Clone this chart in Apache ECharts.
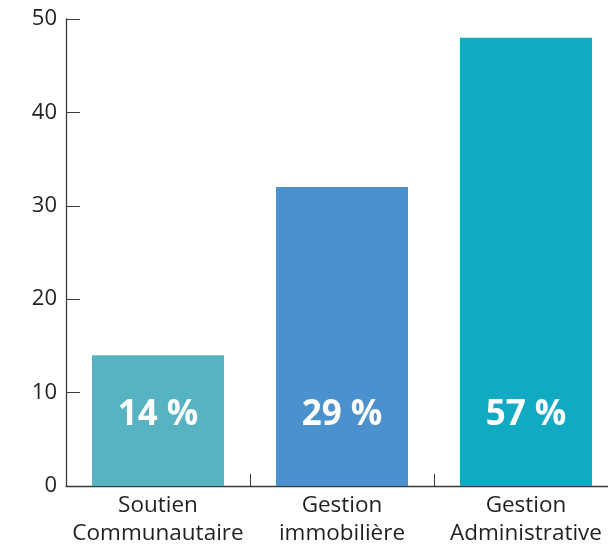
<!DOCTYPE html>
<html>
<head>
<meta charset="utf-8">
<script src="https://cdn.jsdelivr.net/npm/echarts@6/dist/echarts.min.js"></script>
<style>html,body{margin:0;padding:0;background:#fff;overflow:hidden}#c{width:618px;height:548px}</style>
</head>
<body>
<div id="c"></div>
<script>
const categories = ['Soutien\nCommunautaire', 'Gestion\nimmobilière', 'Gestion\nAdministrative'];
const values = [14, 32, 48];
const percentLabels = ['14 %', '29 %', '57 %'];
const barColors = ['#57b2c1', '#4b91cd', '#12a9c2'];
const yTicks = [0, 10, 20, 30, 40, 50];

const chart = echarts.init(document.getElementById('c'));
const font = '"Open Sans", "Noto Sans", sans-serif';
chart.setOption({
  animation: false,
  grid: { left: 66, right: 0, top: 19, bottom: 62 },
  xAxis: {
    type: 'category',
    data: categories,
    axisLine: { lineStyle: { color: '#3a3a3a', width: 1.3 } },
    axisTick: { show: true, inside: true, length: 12, alignWithLabel: false, lineStyle: { color: '#3a3a3a' } },
    axisLabel: { color: '#231f20', fontSize: 22.5, fontFamily: font, lineHeight: 28, margin: 6, interval: 0 }
  },
  yAxis: {
    type: 'value',
    min: yTicks[0], max: yTicks[yTicks.length - 1], interval: 10,
    axisLine: { show: true, lineStyle: { color: '#3a3a3a', width: 1.3 } },
    axisTick: { show: true, inside: true, length: 14, lineStyle: { color: '#3a3a3a' } },
    splitLine: { show: false },
    axisLabel: { color: '#231f20', fontSize: 22, fontFamily: font, margin: 9 }
  },
  series: [{
    type: 'bar',
    barWidth: 132,
    data: values.map((v, i) => ({ value: v, itemStyle: { color: barColors[i] } })),
    label: {
      show: true,
      position: 'insideBottom',
      distance: 53,
      color: '#fff',
      fontSize: 35,
      fontWeight: 'bold',
      fontFamily: font,
      formatter: p => percentLabels[p.dataIndex]
    }
  }]
});
</script>
</body>
</html>
